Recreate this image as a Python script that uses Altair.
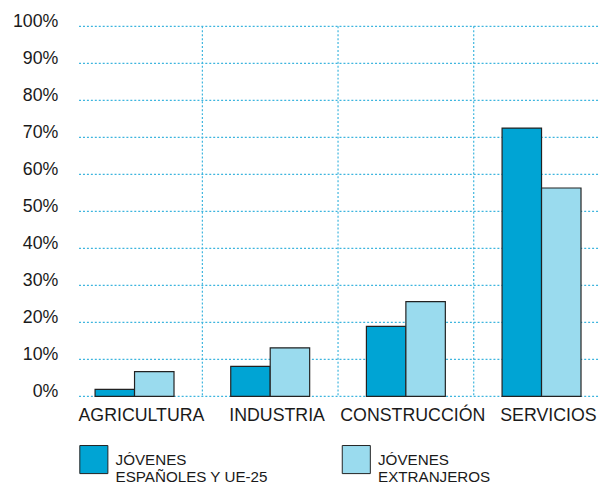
import altair as alt
import pandas as pd

categories = ["AGRICULTURA", "INDUSTRIA", "CONSTRUCCIÓN", "SERVICIOS"]
series_names = ["JÓVENES|ESPAÑOLES Y UE-25", "JÓVENES|EXTRANJEROS"]
espanoles = [1.9, 8.1, 18.9, 72.5]
extranjeros = [6.7, 13.1, 25.6, 56.3]
y_ticks = [0, 10, 20, 30, 40, 50, 60, 70, 80, 90, 100]

bar_colors = ["#00a4d4", "#9adbee"]
grid_color = "#3db5de"
font = "Liberation Sans"

rows = []
for c, a, b in zip(categories, espanoles, extranjeros):
    rows.append({"cat": c, "serie": series_names[0], "v": a})
    rows.append({"cat": c, "serie": series_names[1], "v": b})
df = pd.DataFrame(rows)
grid_df = pd.DataFrame({"v": y_ticks})
sep_df = pd.DataFrame({"cat": categories[1:]})
lab_df = pd.DataFrame({"cat": categories})

W = 550
H = 375

xscale = alt.Scale(domain=categories, paddingInner=0, paddingOuter=0)
yscale = alt.Scale(domain=[0, 100], nice=False)
y_axis = alt.Axis(values=y_ticks, labelExpr="datum.value + '%'", ticks=False, domain=False,
                  grid=False, title=None, labelFontSize=18, labelFont=font, labelColor="#1a1a1a",
                  labelBaseline="alphabetic", labelPadding=9, labelOverlap=False)

hgrid = alt.Chart(grid_df).mark_rule(color=grid_color, strokeDash=[2, 2], strokeWidth=1.2).encode(
    y=alt.Y("v:Q", scale=yscale, axis=y_axis),
    x=alt.value(12.5),
    x2=alt.value(W),
)

vsep = alt.Chart(sep_df).mark_rule(color=grid_color, strokeDash=[2, 2], strokeWidth=1.2).encode(
    x=alt.X("cat:N", scale=xscale, bandPosition=0, axis=None),
)

bars = alt.Chart(df).mark_bar(stroke="#222222", strokeWidth=1.2).encode(
    x=alt.X("cat:N", scale=xscale, axis=None),
    xOffset=alt.XOffset("serie:N", scale=alt.Scale(domain=series_names, paddingInner=0, paddingOuter=0.71875)),
    y=alt.Y("v:Q", scale=yscale, axis=y_axis),
    fill=alt.Fill("serie:N", scale=alt.Scale(domain=series_names, range=bar_colors),
                  legend=alt.Legend(title=None, orient="none", legendX=12.5, legendY=424,
                                    direction="horizontal", columns=2, columnPadding=72,
                                    symbolType="square", symbolSize=810, symbolOpacity=1,
                                    symbolStrokeColor="#222222", symbolStrokeWidth=1,
                                    labelExpr="split(datum.label, '|')", labelFontSize=15.4,
                                    labelFont=font, labelColor="#1a1a1a",
                                    labelOffset=7, labelLimit=300, padding=0)),
)

xlabels = alt.Chart(lab_df).mark_text(baseline="top", align="center", fontSize=18, font=font,
                                      color="#1a1a1a", dx=7).encode(
    x=alt.X("cat:N", scale=xscale, axis=None),
    y=alt.value(H + 11),
    text="cat:N",
)

chart = alt.layer(hgrid, vsep, bars, xlabels).properties(
    width=W, height=H,
    autosize=alt.AutoSizeParams(type="none"),
    padding={"left": 59.5, "top": 15.3, "right": -9.5, "bottom": 94},
).configure_view(stroke=None)

chart.save("out.html", embed_options={"renderer": "svg", "actions": False})
